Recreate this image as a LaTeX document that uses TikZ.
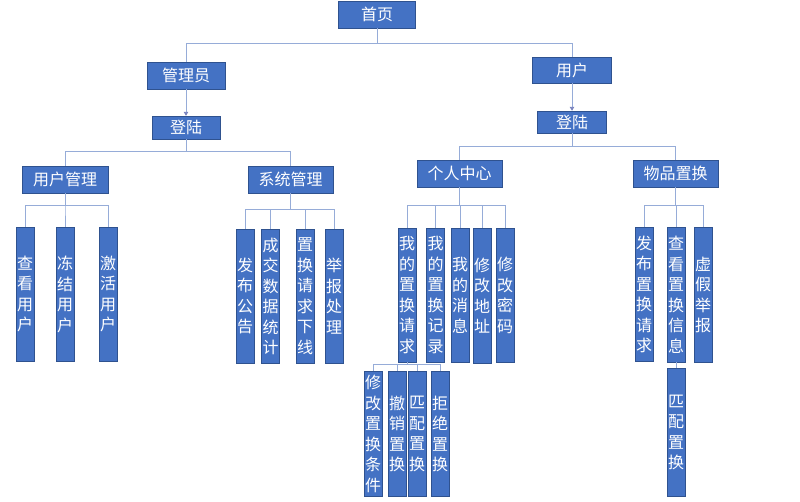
\documentclass[tikz,border=0pt]{standalone}
\usepackage{fontspec}
\newfontfamily\cjk{Noto Sans CJK SC}
\usetikzlibrary{arrows.meta, positioning}
\definecolor{boxblue}{RGB}{68,114,196}
\definecolor{boxline}{RGB}{47,82,143}
\definecolor{linkblue}{RGB}{150,172,216}
\definecolor{tipblue}{RGB}{120,130,190}

\begin{document}
\begin{tikzpicture}[
    x=1pt, y=-1pt,
    box/.style={rectangle, draw=boxline, fill=boxblue, text=white, inner sep=0pt,
        font=\cjk\fontsize{16}{20.5}\selectfont, minimum height=27pt},
    tallbox/.style={box, anchor=north, minimum width=18pt, align=center},
    link/.style={draw=linkblue, line width=0.9pt},
    arrowlink/.style={link, -{Triangle[length=4pt, width=4.5pt, color=tipblue]}}
]
\useasboundingbox (0,0) rectangle (800,501);

% top levels
\node[box, minimum width=77pt] (home) at (377,14.5) {首页};
\node[box, minimum width=78pt] (admin) at (186,75.5) {管理员};
\node[box, minimum width=79pt, minimum height=26pt] (user) at (572,70) {用户};
\node[box, minimum width=68pt, minimum height=23pt] (alogin) at (186,127.5) {登陆};
\node[box, minimum width=69pt, minimum height=22pt] (ulogin) at (572,122) {登陆};

\node[box, minimum width=86pt] (umgr) at (65,179.5) {用户管理};
\node[box, minimum width=85pt] (smgr) at (290.5,179.5) {系统管理};
\node[box, minimum width=85pt] (pcenter) at (459.5,173.5) {个人中心};
\node[box, minimum width=85pt] (swap) at (675.5,173.5) {物品置换};

% user management
\node[tallbox, minimum height=134pt] (viewu) at (25,227) {查\\看\\用\\户};
\node[tallbox, minimum height=134pt] (freezeu) at (65,227) {冻\\结\\用\\户};
\node[tallbox, minimum height=134pt] (activeu) at (108,227) {激\\活\\用\\户};

% system management
\node[tallbox, minimum height=134pt] (notice) at (245,229) {发\\布\\公\\告};
\node[tallbox, minimum height=134pt] (stats) at (270.5,229) {成\\交\\数\\据\\统\\计};
\node[tallbox, minimum height=134pt] (offline) at (305,229) {置\\换\\请\\求\\下\\线};
\node[tallbox, minimum height=134pt] (report) at (334,229) {举\\报\\处\\理};

% personal center
\node[tallbox, minimum height=134pt] (myreq) at (407,228) {我\\的\\置\\换\\请\\求};
\node[tallbox, minimum height=134pt] (myrec) at (435.5,228) {我\\的\\置\\换\\记\\录};
\node[tallbox, minimum height=134pt] (mymsg) at (460,228) {我\\的\\消\\息};
\node[tallbox, minimum height=135pt] (addr) at (482,228) {修\\改\\地\\址};
\node[tallbox, minimum height=134pt] (pwd) at (505,228) {修\\改\\密\\码};

% item swap
\node[tallbox, minimum height=134pt] (pubreq) at (644,227) {发\\布\\置\\换\\请\\求};
\node[tallbox, minimum height=135pt] (viewinfo) at (676,227) {查\\看\\置\\换\\信\\息};
\node[tallbox, minimum height=135pt] (fakerep) at (703,227) {虚\\假\\举\\报};

% my swap requests
\node[tallbox, minimum height=125pt] (modcond) at (373,371) {修\\改\\置\\换\\条\\件};
\node[tallbox, minimum height=125pt] (cancel) at (397,371) {撤\\销\\置\\换};
\node[tallbox, minimum height=125pt] (match) at (417,371) {匹\\配\\置\\换};
\node[tallbox, minimum height=125pt] (reject) at (440,371) {拒\\绝\\置\\换};

\node[tallbox, minimum height=128pt, below=6pt of viewinfo] (match2) {匹\\配\\置\\换};

% connectors
\foreach \c in {admin,user}
  \draw[link] (home.south) -- ++(0,15) -| (\c.north);
\draw[arrowlink] (admin) -- (alogin);
\draw[arrowlink] (user) -- (ulogin);

\foreach \c in {umgr,smgr}
  \draw[link] (alogin.south) -- ++(0,12) -| (\c.north);
\foreach \c in {pcenter,swap}
  \draw[link] (ulogin.south) -- ++(0,13) -| (\c.north);

\foreach \c in {viewu,freezeu,activeu}
  \draw[link] (umgr.south) -- ++(0,12) -| (\c.north);
\foreach \c in {notice,stats,offline,report}
  \draw[link] (smgr.south) -- ++(0,16) -| (\c.north);
\foreach \c in {myreq,myrec,mymsg,addr,pwd}
  \draw[link] (pcenter.south) -- ++(0,18) -| (\c.north);
\foreach \c in {pubreq,viewinfo,fakerep}
  \draw[link] (swap.south) -- ++(0,18) -| (\c.north);

\foreach \c in {modcond,cancel,match,reject}
  \draw[link] (myreq.south) -- ++(0,2.5) -| (\c.north);
\draw[link] (viewinfo) -- (match2);

\end{tikzpicture}
\end{document}
